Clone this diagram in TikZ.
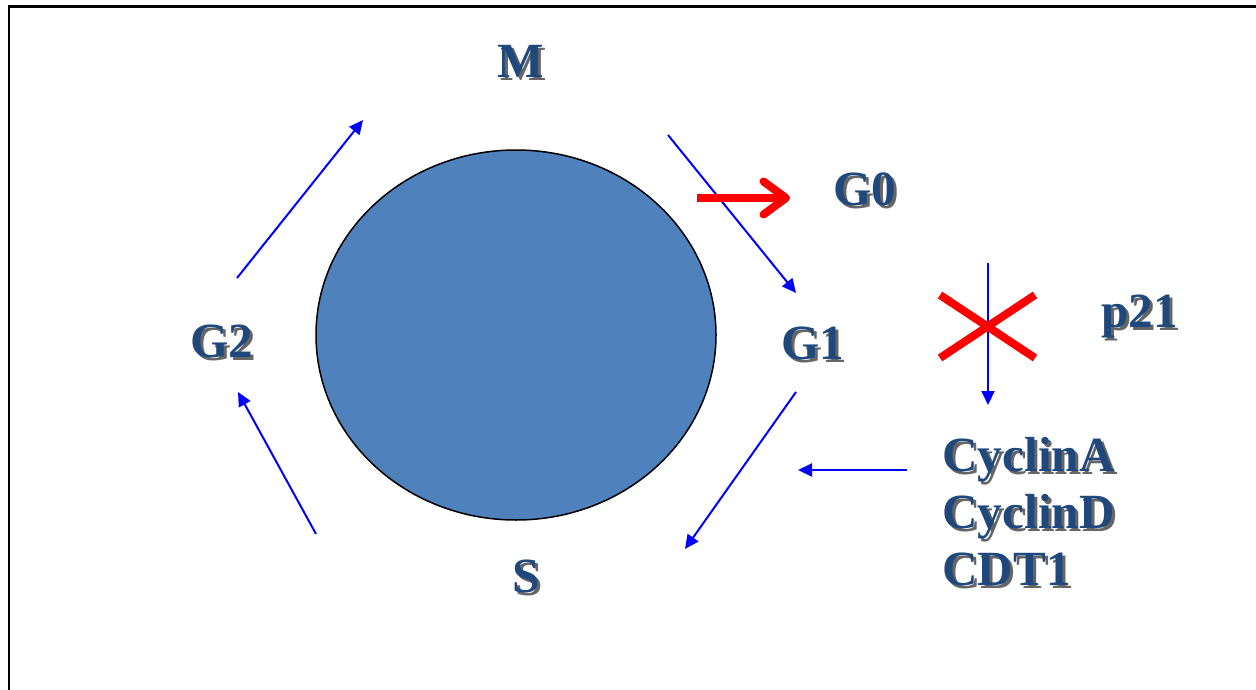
\documentclass[tikz,border=0pt]{standalone}
\usepackage{fontspec}
\setmainfont{Liberation Serif}
\usetikzlibrary{arrows.meta}
\definecolor{Ink}{HTML}{1F497D}
\definecolor{CellBlue}{HTML}{4F81BD}
\definecolor{Flow}{HTML}{0000FF}
\definecolor{Stop}{HTML}{FF0000}
\newcommand\shadowed[1]{\makebox[0pt][l]{\hspace{0.06cm}\raisebox{-0.06cm}{\color{black!60}#1}}#1}
\tikzset{
  phase/.style={
    anchor=base west, inner sep=0pt, text=Ink,
    font=\fontsize{28}{32.4}\selectfont\bfseries, align=left
  },
  cell/.style={draw=black, line width=0.03cm, fill=CellBlue},
  frame/.style={draw=black, line width=0.06cm},
  cycleflow/.style={-{Triangle[length=0.28cm,width=0.26cm]}, draw=Flow, line width=0.04cm},
  exitflow/.style={-{Straight Barb[length=0.45cm,width=0.66cm,round]}, draw=Stop, line width=0.16cm},
  block/.style={draw=Stop, line width=0.16cm}
}

\begin{document}
\begin{tikzpicture}[x=0.02cm,y=-0.02cm]
    \useasboundingbox (0,0) rectangle (1256,689);
    \draw[frame] (1258,7) -- (9,7) -- (9,691);
    \draw[cell] (516,335) ellipse [x radius=200, y radius=185];
    % phases
    \node[phase] (m) at (497,78) {\shadowed{M}};
    \node[phase] (g0) at (833,205) {\shadowed{G0}};
    \node[phase] (g1) at (781,359) {\shadowed{G1}};
    \node[phase] (g2) at (190,357) {\shadowed{G2}};
    \node[phase] (s) at (512,592) {\shadowed{S}};
    \node[phase] (p21) at (1101,327) {\shadowed{p21}};
    \node[phase] (cyc) at (942,585) {\shadowed{CyclinA}\\\shadowed{CyclinD}\\\shadowed{CDT1}};
    % arrow ends
    \coordinate (g2out) at (237,278);
    \coordinate (min) at (363,120);
    \coordinate (mout) at (668,135);
    \coordinate (g1in) at (796,293);
    \coordinate (g1out) at (796,392);
    \coordinate (sin) at (685,549);
    \coordinate (sout) at (316,534);
    \coordinate (g2in) at (238,392);
    \coordinate (cycout) at (907,470);
    \coordinate (g1back) at (798,470);
    \coordinate (ptop) at (988,263);
    \coordinate (pbot) at (988,405);
    \coordinate (exitstart) at (697,198);
    \coordinate (exitend) at (790,198);
    \draw[cycleflow] (g2out) -- (min);
    \draw[cycleflow] (mout) -- (g1in);
    \draw[cycleflow] (g1out) -- (sin);
    \draw[cycleflow] (sout) -- (g2in);
    \draw[cycleflow] (cycout) -- (g1back);
    \draw[cycleflow] (ptop) -- (pbot);
    \draw[exitflow] (exitstart) -- (exitend);
    \draw[block] (940,295) -- (1035,358);
    \draw[block] (940,358) -- (1035,295);
\end{tikzpicture}
\end{document}
